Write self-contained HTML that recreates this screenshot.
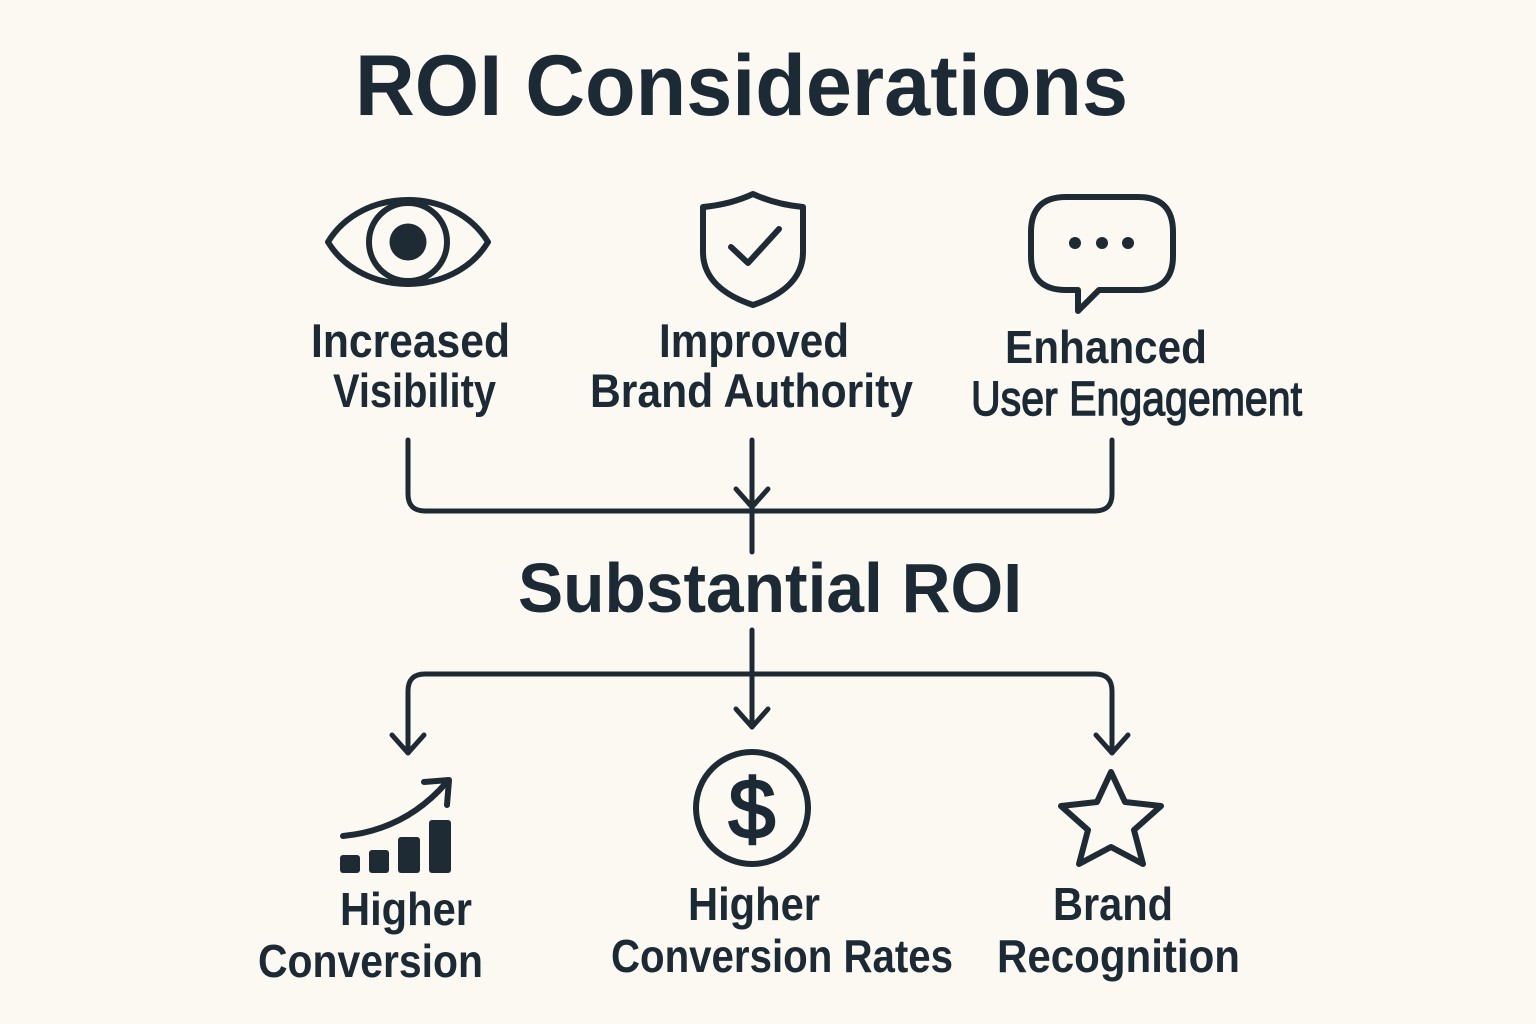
<!DOCTYPE html>
<html>
<head>
<meta charset="utf-8">
<style>
  html, body { margin: 0; padding: 0; background: #fcf9f2; }
  body { width: 1536px; height: 1024px; overflow: hidden; }
  svg { display: block; }
  text { font-family: "Liberation Sans", "DejaVu Sans", sans-serif; fill: #1b2a34; font-weight: bold; }
</style>
</head>
<body>
<svg width="1536" height="1024" viewBox="0 0 1536 1024" xmlns="http://www.w3.org/2000/svg">
  <rect width="1536" height="1024" fill="#fcf9f2"/>

  <!-- Title -->
  <text x="355" y="115" font-size="86" textLength="773" lengthAdjust="spacingAndGlyphs">ROI Considerations</text>

  <g fill="none" stroke="#1e2b35" stroke-width="6" stroke-linecap="round" stroke-linejoin="round">
    <!-- Eye icon -->
    <path d="M328,242 C362,186 454,186 488,242 C454,298 362,298 328,242 Z"/>
    <circle cx="408" cy="242" r="39"/>
    <!-- Shield icon -->
    <path d="M703,207 C725,205 740,200 753,194 C766,200 781,205 803,207 L803,252 C803,280 780,296 753,305 C726,296 703,280 703,252 Z"/>
    <path d="M731,247 L748,263 L779,229"/>
    <!-- Speech bubble -->
    <path d="M1066,197 H1138 Q1173,197 1173,232 V256 Q1173,290 1138,290 H1099 L1078,311 V290 H1066 Q1031,290 1031,256 V232 Q1031,197 1066,197 Z"/>
  </g>
  <circle cx="408" cy="242" r="18.5" fill="#1e2b35"/>
  <circle cx="1075" cy="243" r="6" fill="#1e2b35"/>
  <circle cx="1102" cy="243" r="6" fill="#1e2b35"/>
  <circle cx="1128" cy="243" r="6" fill="#1e2b35"/>

  <!-- Top labels -->
  <text x="311" y="357" font-size="47" textLength="199" lengthAdjust="spacingAndGlyphs">Increased</text>
  <text x="333" y="407" font-size="47" textLength="163" lengthAdjust="spacingAndGlyphs">Visibility</text>
  <text x="659" y="357" font-size="47" textLength="190" lengthAdjust="spacingAndGlyphs">Improved</text>
  <text x="590" y="407" font-size="47" textLength="323" lengthAdjust="spacingAndGlyphs">Brand Authority</text>
  <text x="1005" y="363" font-size="46" textLength="202" lengthAdjust="spacingAndGlyphs">Enhanced</text>
  <text x="971" y="415" font-size="48" textLength="331" lengthAdjust="spacingAndGlyphs" style="font-weight:normal" stroke="#1b2a34" stroke-width="1.4">User Engagement</text>

  <!-- Connectors -->
  <g fill="none" stroke="#1e2b35" stroke-width="5" stroke-linecap="round" stroke-linejoin="round">
    <path d="M408,440 V494 Q408,511 425,511 H1095 Q1112,511 1112,494 V440"/>
    <path d="M752,440 V552"/>
    <path d="M736,489 L752,507 L768,489"/>
    <path d="M752,630 V727"/>
    <path d="M736,709 L752,727 L768,709"/>
    <path d="M408,752 V691 Q408,674 425,674 H1095 Q1112,674 1112,691 V752"/>
    <path d="M392,735 L408,753 L424,735"/>
    <path d="M1096,735 L1112,753 L1128,735"/>
  </g>

  <!-- Substantial ROI -->
  <text x="518" y="612" font-size="70" textLength="504" lengthAdjust="spacingAndGlyphs">Substantial ROI</text>

  <!-- Bottom icons -->
  <g fill="#1e2b35">
    <rect x="340" y="855" width="20" height="18" rx="3"/>
    <rect x="369" y="850" width="20" height="23" rx="3"/>
    <rect x="398" y="837" width="22" height="36" rx="3"/>
    <rect x="429" y="820" width="22" height="53" rx="3"/>
  </g>
  <g fill="none" stroke="#1e2b35" stroke-width="6" stroke-linecap="round" stroke-linejoin="round">
    <path d="M343,836 Q405,830 446,783"/>
    <path d="M424,782 L449,780 L447,805"/>
    <circle cx="752" cy="808" r="56"/>
    <path d="M1111,772 L1125,802 L1161,806 L1134,830 L1143,864 L1111,847 L1079,864 L1088,830 L1061,806 L1097,802 Z"/>
  </g>
  <text x="752" y="838" font-size="84" text-anchor="middle" style="font-weight:normal" stroke="#1b2a34" stroke-width="2.5">$</text>

  <!-- Bottom labels -->
  <text x="340" y="925" font-size="46" textLength="132" lengthAdjust="spacingAndGlyphs">Higher</text>
  <text x="258" y="977" font-size="46" textLength="225" lengthAdjust="spacingAndGlyphs">Conversion</text>
  <text x="688" y="920" font-size="46" textLength="132" lengthAdjust="spacingAndGlyphs">Higher</text>
  <text x="611" y="972" font-size="46" textLength="342" lengthAdjust="spacingAndGlyphs">Conversion Rates</text>
  <text x="1053" y="920" font-size="46" textLength="120" lengthAdjust="spacingAndGlyphs">Brand</text>
  <text x="997" y="972" font-size="46" textLength="243" lengthAdjust="spacingAndGlyphs">Recognition</text>
</svg>
</body>
</html>
